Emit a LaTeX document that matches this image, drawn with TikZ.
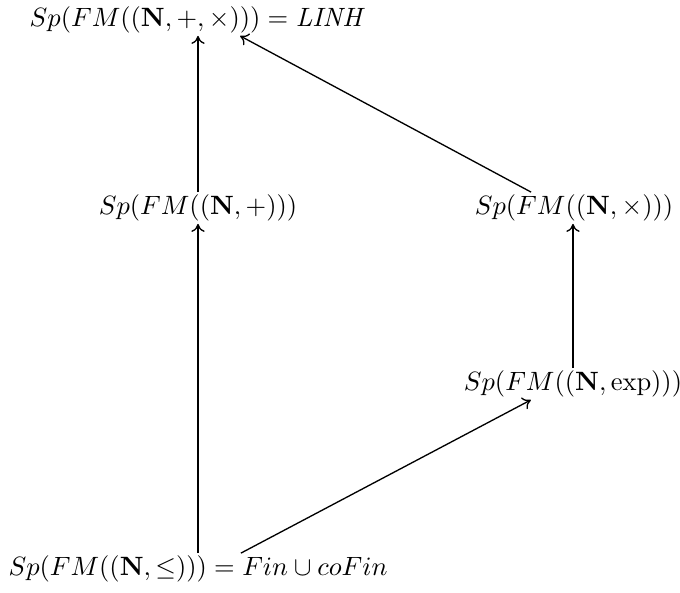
\documentclass[tikz,border=0pt]{standalone}
\usepackage{amsmath}
\usetikzlibrary{arrows.meta}
\begin{document}
\begin{tikzpicture}[x=0.3775pt,y=-0.3775pt,
  obj/.style={inner sep=1pt,outer sep=0pt},
  arr/.style={-{To[length=3pt,width=5pt]},line width=0.5pt}]
\useasboundingbox (0,0) rectangle (680,592);
\node[obj] (top) at (198,20) {$Sp(FM((\mathbf{N},+,\times))) = \mathit{LINH}$};
\node[obj] (ml) at (198,208) {$Sp(FM((\mathbf{N},+)))$};
\node[obj] (mr) at (574,208) {$Sp(FM((\mathbf{N},\times)))$};
\node[obj] (ex) at (573,384) {$Sp(FM((\mathbf{N},\exp)))$};
\node[obj] (bot) at (198,569) {$Sp(FM((\mathbf{N},\leq))) = Fin \cup coFin$};
\draw[arr] (bot) -- (ml);
\draw[arr] (ml) -- (top);
\draw[arr] (ex) -- (ex |- mr.south);
\draw[arr] ([xshift=16.2pt]bot.north) -- ([xshift=-15.9pt]ex.south);
\draw[arr] ([xshift=-16.2pt]mr.north) -- ([xshift=15.9pt]top.south);
\end{tikzpicture}
\end{document}
